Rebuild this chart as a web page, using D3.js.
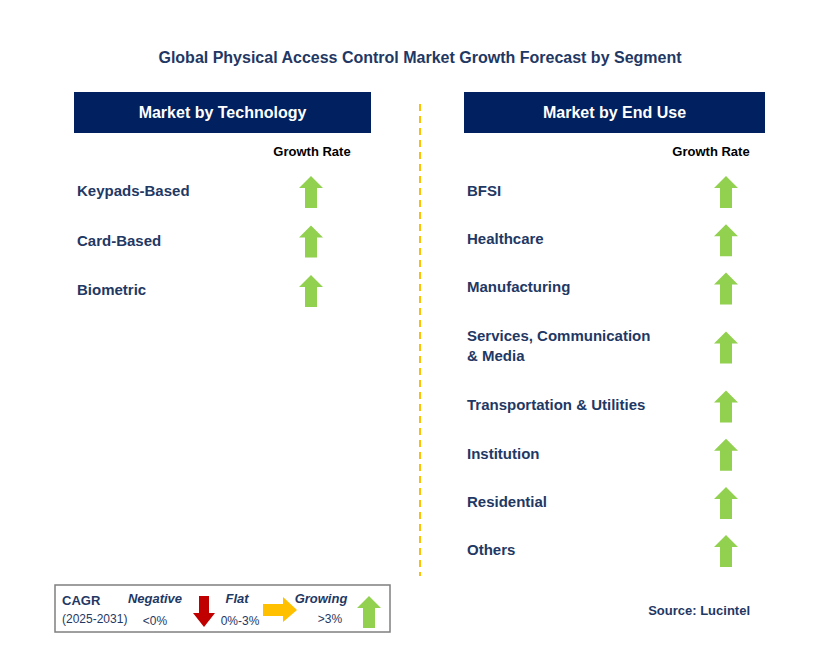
<!DOCTYPE html><html><head><meta charset="utf-8"><script src="https://cdn.jsdelivr.net/npm/d3@7"></script>
<style>body{margin:0;background:#fff}text{font-family:Arial,"Liberation Sans",sans-serif}</style></head><body><svg id="c" width="829" height="660"></svg>
<script>
const title="Global Physical Access Control Market Growth Forecast by Segment";
const techCategories=["Keypads-Based","Card-Based","Biometric"];
const techGrowth=["growing","growing","growing"];
const endUseCategories=[["BFSI"],["Healthcare"],["Manufacturing"],["Services, Communication","& Media"],["Transportation & Utilities"],["Institution"],["Residential"],["Others"]];
const endUseGrowth=["growing","growing","growing","growing","growing","growing","growing","growing"];
const svg=d3.select("#c");
const navy="#002060",green="#92D050";
svg.append("text").attr("x",420).attr("y",63).attr("text-anchor","middle").attr("font-size",16).attr("font-weight","bold").attr("fill","#1F3864").text(title);
function arrowUp(g,cx,cy,col){g.append("path").attr("d",`M${cx},${cy-16}L${cx+12},${cy-4}L${cx+6},${cy-4}L${cx+6},${cy+16}L${cx-6},${cy+16}L${cx-6},${cy-4}L${cx-12},${cy-4}Z`).attr("fill",col);}
function panel(x0,w,head,cats,growth,arrowX,gx,y0,step){
 svg.append("rect").attr("x",x0).attr("y",92).attr("width",w).attr("height",41).attr("fill",navy);
 svg.append("text").attr("x",x0+w/2).attr("y",118).attr("text-anchor","middle").attr("fill","#fff").attr("font-size",16).attr("font-weight","bold").text(head);
 svg.append("text").attr("x",gx).attr("y",156).attr("text-anchor","middle").attr("font-size",13).attr("font-weight","bold").attr("fill","#000").text("Growth Rate");
 const units=cats.map(c=>Array.isArray(c)&&c.length>1?1.45:1);
 let cum=[0];for(let i=1;i<units.length;i++)cum.push(cum[i-1]+(units[i-1]+units[i])/2);
 const y=d3.scaleLinear().domain([0,1]).range([y0,y0+step]);
 cats.forEach((c,i)=>{const lines=Array.isArray(c)?c:[c];const cy=y(cum[i]);
  lines.forEach((l,j)=>svg.append("text").attr("x",x0+3).attr("y",cy+5+(j-(lines.length-1)/2)*20).attr("font-size",15).attr("font-weight","bold").attr("fill","#1F3864").text(l));
  if(growth[i]==="growing")arrowUp(svg,arrowX,cy+1,green);});
}
panel(74,297,"Market by Technology",techCategories,techGrowth,311,312,191,49.5);
panel(464,301,"Market by End Use",endUseCategories,endUseGrowth,726,711,191,48.2);
svg.append("line").attr("x1",420).attr("x2",420).attr("y1",104).attr("y2",576).attr("stroke","#FFC000").attr("stroke-width",2).attr("stroke-dasharray","7,5");
svg.append("rect").attr("x",55).attr("y",585).attr("width",335).attr("height",47).attr("fill","#fff").attr("stroke","#7f7f7f").attr("stroke-width",1.5);
const t=(x,y,s,o={})=>svg.append("text").attr("x",x).attr("y",y).attr("font-size",o.fs||12).attr("font-weight",o.b?"bold":"normal").attr("font-style",o.i?"italic":"normal").attr("fill","#1F3864").attr("text-anchor",o.a||"start").text(s);
t(62,605,"CAGR",{b:1,fs:13});t(62,623,"(2025-2031)",{fs:12});
t(155,603,"Negative",{b:1,i:1,a:"middle",fs:13});t(155,625,"<0%",{a:"middle"});
t(237,603,"Flat",{b:1,i:1,a:"middle",fs:13});t(240,625,"0%-3%",{a:"middle"});
t(321,603,"Growing",{b:1,i:1,a:"middle",fs:13});t(330,623,">3%",{a:"middle"});
svg.append("path").attr("d","M199,596L209,596L209,613L215,613L204,627L193,613L199,613Z").attr("fill","#C00000");
svg.append("path").attr("d","M263,604L283,604L283,597L297,610L283,622L283,616L263,616Z").attr("fill","#FFC000");
arrowUp(svg,369,612,green);
svg.append("text").attr("x",750).attr("y",615).attr("text-anchor","end").attr("font-size",13).attr("font-weight","bold").attr("fill","#1F3864").text("Source: Lucintel");
</script></body></html>
